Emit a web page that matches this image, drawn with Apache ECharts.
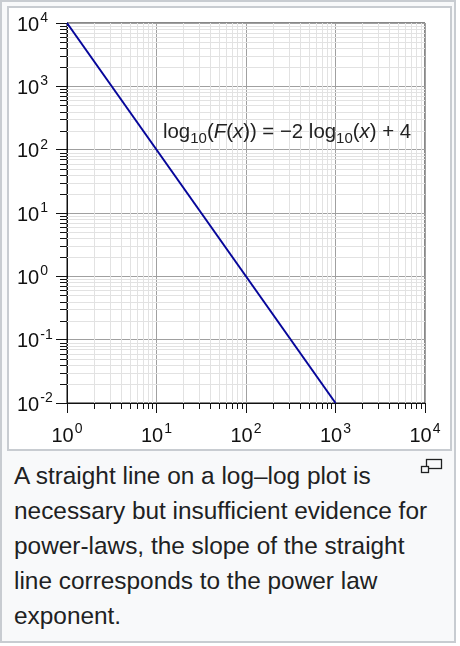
<!DOCTYPE html>
<html>
<head>
<meta charset="utf-8">
<script src="https://cdn.jsdelivr.net/npm/echarts@6/dist/echarts.min.js"></script>
<style>
  html, body { margin: 0; padding: 0; background: #ffffff; width: 460px; height: 646px; overflow: hidden; }
  #outer { position: absolute; left: 0; top: 0; width: 456px; height: 643px; box-sizing: border-box;
           border: 2px solid #c8ccd1; background: #f8f9fa; }
  #imgbox { position: absolute; left: 7px; top: 6px; width: 445px; height: 445px; box-sizing: border-box;
            border: 2px solid #c8ccd1; background: #ffffff; }
  #chart { position: absolute; left: 0; top: 0; width: 460px; height: 455px; }
  #caption { position: absolute; left: 14px; top: 458px; width: 440px; white-space: nowrap;
             font-family: "Liberation Sans", Arial, Helvetica, sans-serif; font-size: 24.4px; line-height: 35px;
             color: #202122; }
  #icon { position: absolute; left: 420px; top: 458px; }
</style>
</head>
<body>
<div id="outer"></div>
<div id="imgbox"></div>
<div id="chart"></div>
<svg id="icon" width="24" height="18" viewBox="0 0 24 18">
  <rect x="6.5" y="1.5" width="15" height="9" fill="none" stroke="#202122" stroke-width="1.3"/>
  <rect x="1.5" y="8.5" width="7" height="6" fill="#f8f9fa" stroke="#202122" stroke-width="1.3"/>
</svg>
<div id="caption">A straight line on a log–log plot is<br>necessary but insufficient evidence for<br>power-laws, the slope of the straight<br>line corresponds to the power law<br>exponent.</div>
<script>
// ---- data ----
const xTickExponents = ['0', '1', '2', '3', '4'];
const yTickExponents = ['-2', '-1', '0', '1', '2', '3', '4'];
const xDecades = [1, 10, 100, 1000, 10000];
const yDecades = [0.01, 0.1, 1, 10, 100, 1000, 10000];
const lineX = [1, 1000];
const lineY = [10000, 0.01];
const minorMultipliers = [2, 3, 4, 5, 6, 7, 8, 9];

const xMin = xDecades[0], xMax = xDecades[xDecades.length - 1];
const yMin = yDecades[0], yMax = yDecades[yDecades.length - 1];

const xMinor = [];
for (let i = 0; i < xDecades.length - 1; i++) minorMultipliers.forEach(m => xMinor.push([xDecades[i] * m, 1]));
const yMinor = [];
for (let i = 0; i < yDecades.length - 1; i++) minorMultipliers.forEach(m => yMinor.push([1, +(yDecades[i] * m).toPrecision(6)]));

const lineData = lineX.map((x, i) => [x, lineY[i]]);

function expLabel(decades, exps) {
  return function (v) {
    let idx = decades.findIndex(d => Math.abs(Math.log10(d) - Math.log10(v)) < 1e-6);
    if (idx < 0) return '';
    return '{b|10}{s|' + exps[idx] + '}';
  };
}
const labelRich = {
  b: { fontSize: 20, fontFamily: 'Liberation Sans', color: '#111', lineHeight: 24, verticalAlign: 'bottom' },
  s: { fontSize: 14, fontFamily: 'Liberation Sans', color: '#111', lineHeight: 24, verticalAlign: 'top', padding: [0, 0, 0, 1] }
};

const chart = echarts.init(document.getElementById('chart'), null, { renderer: 'canvas' });
const minorColor = '#e2e2e2';
const axisColor = '#111';

chart.setOption({
  animation: false,
  backgroundColor: 'transparent',
  grid: { left: 67, top: 23, right: 35, bottom: 52, show: true, borderColor: axisColor, borderWidth: 1, backgroundColor: 'transparent' },
  xAxis: {
    type: 'log', logBase: 10, min: xMin, max: xMax,
    axisLine: { show: true, onZero: false, lineStyle: { color: axisColor, width: 1 } },
    axisTick: { show: true, length: 10, lineStyle: { color: axisColor } },
    splitLine: { show: true, lineStyle: { color: '#a0a0a0', width: 1 } },
    minorTick: { show: false }, minorSplitLine: { show: false },
    axisLabel: { margin: 19, formatter: expLabel(xDecades, xTickExponents), rich: labelRich, hideOverlap: false, showMinLabel: true, showMaxLabel: true }
  },
  yAxis: {
    type: 'log', logBase: 10, min: yMin, max: yMax,
    axisLine: { show: true, onZero: false, lineStyle: { color: axisColor, width: 1 } },
    axisTick: { show: true, length: 11, lineStyle: { color: axisColor } },
    splitLine: { show: true, lineStyle: { color: '#a0a0a0', width: 1 } },
    minorTick: { show: false }, minorSplitLine: { show: false },
    axisLabel: { margin: 50, align: 'left', formatter: expLabel(yDecades, yTickExponents), rich: labelRich, hideOverlap: false, showMinLabel: true, showMaxLabel: true }
  },
  series: [
    {
      type: 'custom', z: 1, clip: false, silent: true,
      data: xMinor,
      renderItem: function (params, api) {
        const v = api.value(0);
        const top = api.coord([v, yMax]);
        const bot = api.coord([v, yMin]);
        const x = Math.round(top[0]) + 0.5;
        return { type: 'group', children: [
          { type: 'line', shape: { x1: x, y1: top[1], x2: x, y2: bot[1] }, style: { stroke: minorColor, lineWidth: 1 } },
          { type: 'line', shape: { x1: x, y1: bot[1], x2: x, y2: bot[1] + 6 }, style: { stroke: axisColor, lineWidth: 1 } }
        ] };
      }
    },
    {
      type: 'custom', z: 1, clip: false, silent: true,
      data: yMinor,
      renderItem: function (params, api) {
        const v = api.value(1);
        const l = api.coord([xMin, v]);
        const r = api.coord([xMax, v]);
        const y = Math.round(l[1]) + 0.5;
        return { type: 'group', children: [
          { type: 'line', shape: { x1: l[0], y1: y, x2: r[0], y2: y }, style: { stroke: minorColor, lineWidth: 1 } },
          { type: 'line', shape: { x1: l[0] - 7, y1: y, x2: l[0], y2: y }, style: { stroke: axisColor, lineWidth: 1 } }
        ] };
      }
    },
    {
      type: 'line', z: 5, data: lineData, symbol: 'none', silent: true,
      lineStyle: { color: '#06069a', width: 2 }
    }
  ],
  graphic: [
    {
      type: 'text', left: 163, top: 120, z: 10,
      style: {
        text: '{n|log}{sub|10}{n|(}{i|F}{n|(}{i|x}{n|)) = −2 log}{sub|10}{n|(}{i|x}{n|) + 4}',
        rich: {
          n: { fontSize: 20.4, fontFamily: 'Liberation Sans', fill: '#222', lineHeight: 26, verticalAlign: 'top', padding: [2, 0, 0, 0] },
          i: { fontSize: 20.4, fontFamily: 'Liberation Sans', fontStyle: 'italic', fill: '#222', lineHeight: 26, verticalAlign: 'top', padding: [2, 0, 0, 0] },
          sub: { fontSize: 15, fontFamily: 'Liberation Sans', fill: '#222', lineHeight: 26, verticalAlign: 'bottom' }
        }
      }
    }
  ]
});
</script>
</body>
</html>
